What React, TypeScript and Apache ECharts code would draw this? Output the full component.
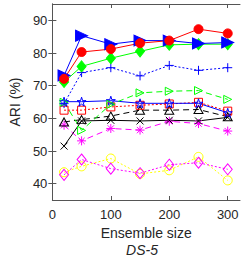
import React, { useEffect, useRef } from "react";
import * as echarts from "echarts";

const ensembleSizes = [20, 50, 100, 150, 200, 250, 300];
const xTicks = [0, 100, 200, 300];
const yTicks = [40, 50, 60, 70, 80, 90];

const redCircle = [72.1, 80.3, 81.2, 83.0, 83.8, 87.3, 86.0];
const blueTriFilled = [73.1, 85.3, 82.7, 83.8, 83.8, 82.9, 83.2];
const greenDiamond = [71.1, 75.9, 78.4, 80.5, 82.5, 82.7, 82.7];
const bluePlus = [64.5, 74.0, 75.5, 73.0, 76.2, 74.7, 75.5];
const greenTriOpen = [64.9, 56.3, 64.3, 67.8, 68.3, 68.5, 65.8];
const blueStar = [65.1, 65.1, 65.4, 64.6, 64.6, 64.6, 61.7];
const redSquare = [62.5, 62.5, 63.5, 64.0, 64.4, 64.9, 62.2];
const blackTri = [58.9, 59.6, 60.7, 62.5, 62.5, 62.7, 60.5];
const blackX = [51.5, 59.2, 59.4, 59.2, 59.4, 59.2, 60.3];
const magentaAst = [57.9, 53.1, 56.9, 56.4, 59.1, 58.4, 56.1];
const magentaDiamond = [42.7, 47.4, 44.6, 43.2, 45.8, 46.4, 44.4];
const yellowCircle = [43.5, 45.3, 47.7, 43.0, 44.1, 48.2, 41.0];

const TRI_RIGHT = "path://M0,0L10,5L0,10Z";
const PLUS = "path://M5,0L5,10M0,5L10,5";
const XMARK = "path://M0,0L10,10M0,10L10,0";
const AST = "path://M5,0L5,10M0,5L10,5M1.5,1.5L8.5,8.5M1.5,8.5L8.5,1.5";
const STAR = "path://M50,0L61,35L98,35L68,57L79,91L50,70L21,91L32,57L2,35L39,35Z";

const FONT = "'Liberation Sans', Arial, sans-serif";

type S = {
  name: string;
  data: number[];
  color: string;
  line: any;
  symbol: string;
  size: number | number[];
  filled: boolean;
};

const seriesDefs: S[] = [
  { name: "yellowCircle", data: yellowCircle, color: "#ffff00", line: [2, 2], symbol: "circle", size: 9, filled: false },
  { name: "magentaDiamond", data: magentaDiamond, color: "#ff00ff", line: [2, 2], symbol: "diamond", size: [9, 11], filled: false },
  { name: "magentaAst", data: magentaAst, color: "#ff00ff", line: [6, 4], symbol: AST, size: 9, filled: false },
  { name: "blackX", data: blackX, color: "#000000", line: "solid", symbol: XMARK, size: 7, filled: false },
  { name: "blackTri", data: blackTri, color: "#000000", line: [6, 4], symbol: "triangle", size: [9, 8], filled: false },
  { name: "redSquare", data: redSquare, color: "#ff0000", line: [2, 2], symbol: "rect", size: 8, filled: false },
  { name: "blueStar", data: blueStar, color: "#0000ff", line: "solid", symbol: STAR, size: 9, filled: false },
  { name: "greenTriOpen", data: greenTriOpen, color: "#00ff00", line: [6, 4], symbol: TRI_RIGHT, size: [8, 8], filled: false },
  { name: "bluePlus", data: bluePlus, color: "#0000ff", line: [2, 2], symbol: PLUS, size: 9, filled: false },
  { name: "greenDiamond", data: greenDiamond, color: "#00ff00", line: "solid", symbol: "diamond", size: [9, 11], filled: true },
  { name: "blueTriFilled", data: blueTriFilled, color: "#0000ff", line: "solid", symbol: TRI_RIGHT, size: [12, 11], filled: true },
  { name: "redCircle", data: redCircle, color: "#ff0000", line: "solid", symbol: "circle", size: 9, filled: true },
];

export default function App() {
  const ref = useRef<HTMLDivElement>(null);
  useEffect(() => {
    if (!ref.current) return;
    const chart = echarts.init(ref.current, undefined, { renderer: "svg" });
    const axisColor = "#555555";
    const textColor = "#262626";
    const tick = { show: true, inside: true, length: 4, lineStyle: { color: axisColor } };
    chart.setOption({
      animation: false,
      backgroundColor: "#ffffff",
      grid: { left: 43.5, right: 1, top: 4, bottom: 57, containLabel: false },
      graphic: [
        {
          type: "text",
          x: 142,
          y: 250,
          style: {
            text: "DS-5",
            align: "center",
            verticalAlign: "middle",
            fontFamily: FONT,
            fontSize: 14,
            fontStyle: "italic",
            fill: textColor,
          },
        },
      ],
      xAxis: [
        {
          type: "value",
          min: 0,
          max: 321,
          name: "Ensemble size",
          nameLocation: "middle",
          nameGap: 25,
          nameTextStyle: { fontFamily: FONT, fontSize: 14, color: textColor },
          axisLine: { show: true, lineStyle: { color: axisColor } },
          axisTick: { ...tick, customValues: xTicks },
          axisLabel: { customValues: xTicks, fontFamily: FONT, fontSize: 13, color: textColor, margin: 8 },
          splitLine: { show: false },
        },
        {
          type: "value",
          position: "top",
          min: 0,
          max: 321,
          axisLine: { show: true, lineStyle: { color: axisColor } },
          axisTick: { ...tick, customValues: xTicks },
          axisLabel: { show: false },
          splitLine: { show: false },
        },
      ],
      yAxis: [
        {
          type: "value",
          min: 35,
          max: 95,
          name: "ARI (%)",
          nameLocation: "middle",
          nameGap: 24,
          nameTextStyle: { fontFamily: FONT, fontSize: 14, color: textColor },
          axisLine: { show: true, lineStyle: { color: axisColor } },
          axisTick: { ...tick, customValues: yTicks },
          axisLabel: { customValues: yTicks, fontFamily: FONT, fontSize: 13, color: textColor, margin: 5 },
          splitLine: { show: false },
        },
        {
          type: "value",
          position: "right",
          min: 35,
          max: 95,
          axisLine: { show: true, lineStyle: { color: axisColor } },
          axisTick: { ...tick, customValues: yTicks },
          axisLabel: { show: false },
          splitLine: { show: false },
        },
      ],
      series: seriesDefs.map((d) => ({
        type: "line",
        name: d.name,
        data: d.data.map((v, i) => [ensembleSizes[i], v]),
        symbol: d.symbol,
        symbolSize: d.size,
        showSymbol: true,
        lineStyle: { color: d.color, width: 1, type: d.line },
        itemStyle: d.filled
          ? { color: d.color, borderColor: d.color, borderWidth: 1 }
          : { color: "rgba(0,0,0,0)", borderColor: d.color, borderWidth: 1 },
        emphasis: { disabled: true },
        z: 2,
      })),
    });
    return () => chart.dispose();
  }, []);
  return (
    <div
      ref={ref}
      style={{ position: "fixed", left: 0, top: 0, width: 241, height: 257 }}
    />
  );
}
